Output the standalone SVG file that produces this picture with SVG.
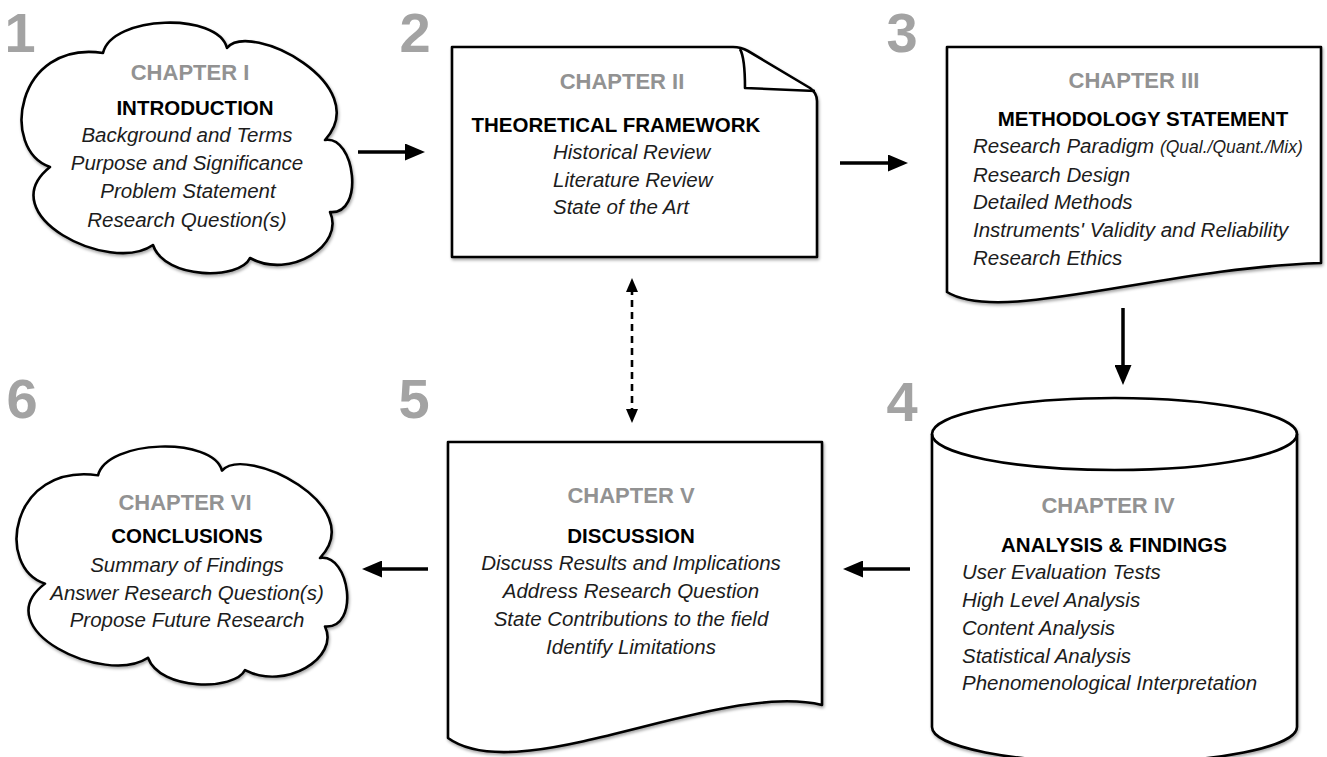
<svg xmlns="http://www.w3.org/2000/svg" xmlns:xlink="http://www.w3.org/1999/xlink" width="1327" height="757" viewBox="0 0 1327 757">
<style>
text{font-family:"Liberation Sans",Arial,Helvetica,sans-serif}
.num{font-size:56px;font-weight:bold;fill:#a3a3a3}
.chap{font-size:22px;font-weight:bold;fill:#929292}
.title{font-size:20.5px;font-weight:bold;fill:#000}
.item{font-size:20.5px;font-style:italic;fill:#1c1c1c}
.small{font-size:17.5px}
.mid{text-anchor:middle}
.shape{fill:#fff;stroke:#000;stroke-width:2.6;stroke-linejoin:round;filter:url(#sh)}
.line{fill:none;stroke:#000;stroke-width:2.6;stroke-linejoin:round}
.arrow{fill:none;stroke:#000;stroke-width:3.5;marker-end:url(#ah)}
.dash{fill:none;stroke:#000;stroke-width:2.6;stroke-dasharray:7 5;marker-start:url(#ahs);marker-end:url(#ahs)}
</style>
<defs>
<filter id="sh" x="-5%" y="-5%" width="110%" height="115%">
<feDropShadow dx="1" dy="2" stdDeviation="1.6" flood-color="#000" flood-opacity="0.35"/>
</filter>
<marker id="ah" viewBox="0 0 20 17" refX="6" refY="8.5" markerWidth="20" markerHeight="17" markerUnits="userSpaceOnUse" orient="auto">
<path d="M0,0 L20,8.5 L0,17 Z" fill="#000"/>
</marker>
<marker id="ahs" viewBox="0 0 14 12" refX="4" refY="6" markerWidth="14" markerHeight="12" markerUnits="userSpaceOnUse" orient="auto-start-reverse">
<path d="M0,0 L14,6 L0,12 Z" fill="#000"/>
</marker>
<path id="cloud" d="M50,167 C0,150 15,40 103,53 C112,15 218,12 227,48 C250,20 375,85 325,140 C355,135 365,215 330,212 C345,245 290,280 250,258 C240,280 165,280 153,245 C110,275 -10,215 50,167 Z"/>
</defs>
<rect width="1327" height="757" fill="#fff"/>

<g id="numbers">
<text class="num mid" x="20" y="52">1</text>
<text class="num mid" x="415" y="52">2</text>
<text class="num mid" x="902" y="52">3</text>
<text class="num mid" x="902" y="421">4</text>
<text class="num mid" x="414" y="418">5</text>
<text class="num mid" x="22" y="418">6</text>
</g>

<g id="chapter1">
<use xlink:href="#cloud" href="#cloud" class="shape"/>
<text class="chap mid" x="190" y="80">CHAPTER I</text>
<text class="title mid" x="195" y="115">INTRODUCTION</text>
<text class="item mid" x="187" y="142">Background and Terms</text>
<text class="item mid" x="187" y="170">Purpose and Significance</text>
<text class="item mid" x="188" y="198">Problem Statement</text>
<text class="item mid" x="187" y="227">Research Question(s)</text>
</g>

<g id="chapter2">
<path class="shape" d="M452,47 H733 Q741,47 748,51 L810,88 Q817,93 817,101 V257 H452 Z"/>
<path class="line" d="M740,49 C744,56 745,70 745,88 L815,91"/>
<text class="chap mid" x="622" y="89">CHAPTER II</text>
<text class="title mid" x="616" y="132">THEORETICAL FRAMEWORK</text>
<text class="item" x="553" y="159">Historical Review</text>
<text class="item" x="553" y="187">Literature Review</text>
<text class="item" x="553" y="214">State of the Art</text>
</g>

<g id="chapter3">
<path class="shape" d="M947,47 H1321 V263 C1160,268 1000,325 947,292 Z"/>
<text class="chap mid" x="1134" y="88">CHAPTER III</text>
<text class="title mid" x="1143" y="126">METHODOLOGY STATEMENT</text>
<text class="item" x="973" y="153">Research Paradigm <tspan class="small">(Qual./Quant./Mix)</tspan></text>
<text class="item" x="973" y="182">Research Design</text>
<text class="item" x="973" y="209">Detailed Methods</text>
<text class="item" x="973" y="237">Instruments' Validity and Reliability</text>
<text class="item" x="973" y="265">Research Ethics</text>
</g>

<g id="chapter4">
<path class="shape" d="M932,434 A182.5,36 0 0 1 1297,434 V727 A182.5,36 0 0 1 932,727 Z"/>
<path class="line" d="M932,434 A182.5,36 0 0 0 1297,434"/>
<text class="chap mid" x="1108" y="513">CHAPTER IV</text>
<text class="title mid" x="1114" y="552">ANALYSIS &amp; FINDINGS</text>
<text class="item" x="962" y="579">User Evaluation Tests</text>
<text class="item" x="962" y="607">High Level Analysis</text>
<text class="item" x="962" y="635">Content Analysis</text>
<text class="item" x="962" y="663">Statistical Analysis</text>
<text class="item" x="962" y="690">Phenomenological Interpretation</text>
</g>

<g id="chapter5">
<path class="shape" d="M448,442 H822 V705 C720,680 520,790 448,738 Z"/>
<text class="chap mid" x="631" y="503">CHAPTER V</text>
<text class="title mid" x="631" y="543">DISCUSSION</text>
<text class="item mid" x="631" y="570">Discuss Results and Implications</text>
<text class="item mid" x="631" y="598">Address Research Question</text>
<text class="item mid" x="631" y="626">State Contributions to the field</text>
<text class="item mid" x="631" y="654">Identify Limitations</text>
</g>

<g id="chapter6">
<use xlink:href="#cloud" href="#cloud" class="shape" transform="translate(-5,425) scale(1,0.95)"/>
<text class="chap mid" x="185" y="510">CHAPTER VI</text>
<text class="title mid" x="187" y="543">CONCLUSIONS</text>
<text class="item mid" x="187" y="572">Summary of Findings</text>
<text class="item mid" x="187" y="600">Answer Research Question(s)</text>
<text class="item mid" x="187" y="627">Propose Future Research</text>
</g>

<g id="connectors">
<path class="arrow" d="M358,152 H411"/>
<path class="arrow" d="M840,163 H894"/>
<path class="arrow" d="M1123,308 V371"/>
<path class="arrow" d="M910,569 H857"/>
<path class="arrow" d="M428,569 H376"/>
<path class="dash" d="M632,288 V413"/>
</g>
</svg>
